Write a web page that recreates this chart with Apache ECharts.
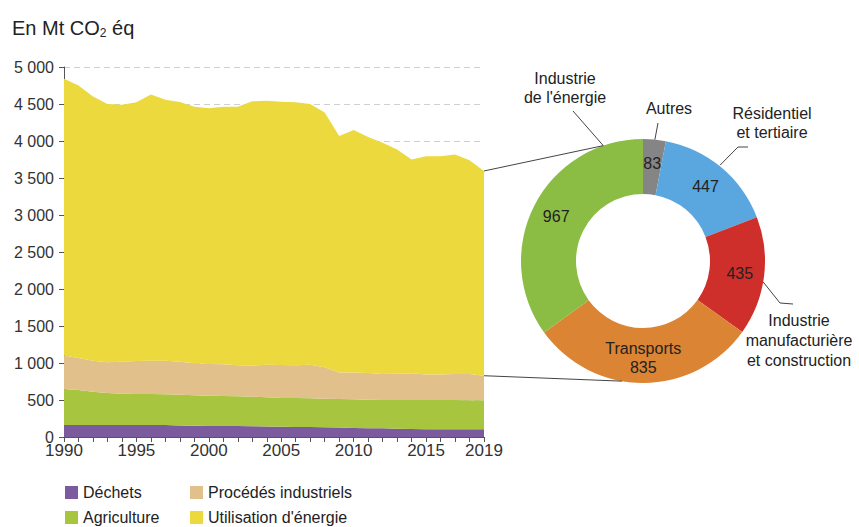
<!DOCTYPE html>
<html><head><meta charset="utf-8">
<script src="https://cdn.jsdelivr.net/npm/echarts@6/dist/echarts.min.js"></script>
<style>html,body{margin:0;padding:0;background:#fff}#c{width:859px;height:527px}</style>
</head><body><div id="c"></div>
<script>
// ---- data ----
const years = ['1990','1991','1992','1993','1994','1995','1996','1997','1998','1999',
  '2000','2001','2002','2003','2004','2005','2006','2007','2008','2009',
  '2010','2011','2012','2013','2014','2015','2016','2017','2018','2019'];
const dechets = [163,163,163,163,163,163,162,161,157,153,149,148,147,145,141,137,136,134,131,127,122,119,117,113,109,105,104,104,104,104];
const agriculture = [486,473,450,432,423,418,419,416,415,410,410,406,403,400,395,390,391,389,387,387,387,386,383,387,391,395,396,396,391,391];
const procedes = [451,432,419,414,432,446,451,455,446,432,427,428,418,419,441,446,441,454,423,359,364,359,351,355,360,346,346,351,356,333];
const energie = [3741,3682,3568,3491,3473,3496,3595,3527,3509,3469,3455,3482,3496,3572,3568,3559,3555,3523,3445,3195,3277,3191,3126,3031,2890,2949,2949,2967,2890,2767];
const xTickLabels = ['1990','1995','2000','2005','2010','2015','2019'];
const yTicks = [0,500,1000,1500,2000,2500,3000,3500,4000,4500,5000];
const pieLabels = ['Autres','Résidentiel\net tertiaire','Industrie\nmanufacturière\net construction','Transports',"Industrie\nde l'énergie"];
const pieValues = [83,447,435,835,967];

// ---- styles / layout ----
const FONT = '"Liberation Sans", Arial, Helvetica, sans-serif';
const TXT = '#222';
const areaColors = ['#7B5A9E','#A8C53F','#E1C08B','#EBD93E'];
const pieColors = ['#858585','#5AA7E0','#CF2F2A','#DB8433','#8BBD45'];
const PIE_C = [643, 261], PIE_R0 = 67, PIE_R = 122;

const pieNames = pieLabels.map(s => s.replace(/\n/g, ' '));

function areaSeries(name, data, color) {
  return {
    name, type: 'line', stack: 'total', data, symbol: 'none', showSymbol: false,
    lineStyle: { width: 0, opacity: 0 }, areaStyle: { color, opacity: 1 },
    itemStyle: { color }, emphasis: { disabled: true }, silent: true
  };
}
function legendCol(left, names) {
  return {
    left, top: 484, height: 80, orient: 'vertical', padding: 0,
    itemWidth: 13, itemHeight: 13, itemGap: 8, icon: 'rect', selectedMode: false,
    data: names,
    textStyle: { fontSize: 16, color: TXT, fontFamily: FONT, lineHeight: 17 }
  };
}

const chart = echarts.init(document.getElementById('c'), null, { renderer: 'svg' });
const option = {
  animation: false,
  backgroundColor: '#fff',
  textStyle: { fontFamily: FONT },
  title: {
    text: 'En Mt CO{sub|2} éq', left: 12, top: 17, padding: 0,
    textStyle: { fontSize: 20, fontWeight: 'normal', color: TXT, fontFamily: FONT, lineHeight: 22,
      rich: { sub: { fontSize: 12, fontFamily: FONT, color: TXT, verticalAlign: 'bottom', lineHeight: 12, padding: [10, 0, 0, 0] } } }
  },
  legend: [
    legendCol(65, ['Déchets', 'Agriculture']),
    legendCol(190, ['Procédés industriels', "Utilisation d'énergie"])
  ],
  grid: { left: 64, right: 375, top: 67, bottom: 90, outerBoundsMode: 'none', containLabel: false },
  xAxis: {
    type: 'category', boundaryGap: false, data: years,
    axisLine: { lineStyle: { color: '#555', width: 1 } },
    axisTick: { show: true, interval: 0, length: 5, lineStyle: { color: '#555' } },
    axisLabel: { interval: (i, v) => xTickLabels.includes(String(v)), fontSize: 17, color: '#333', margin: 6, fontFamily: FONT, lineHeight: 15, hideOverlap: false },
    splitLine: { show: false }
  },
  yAxis: {
    type: 'value', min: yTicks[0], max: yTicks[yTicks.length - 1], interval: yTicks[1] - yTicks[0],
    axisLine: { show: true, lineStyle: { color: '#555', width: 1 } },
    axisTick: { show: true, length: 5, lineStyle: { color: '#555' } },
    axisLabel: { fontSize: 16, color: '#333', margin: 10, fontFamily: FONT, lineHeight: 13,
      formatter: v => String(v).replace(/\B(?=(\d{3})+(?!\d))/g, ' ') },
    splitLine: { show: true, lineStyle: { color: '#cfcfcf', type: [6, 4], width: 1 } }
  },
  series: [
    areaSeries('Déchets', dechets, areaColors[0]),
    areaSeries('Agriculture', agriculture, areaColors[1]),
    areaSeries('Procédés industriels', procedes, areaColors[2]),
    areaSeries("Utilisation d'énergie", energie, areaColors[3]),
    {
      type: 'pie', center: PIE_C, radius: [PIE_R0, PIE_R], startAngle: 90, clockwise: true,
      silent: true, avoidLabelOverlap: false, emphasis: { disabled: true },
      data: pieNames.map((n, i) => ({ name: n, value: pieValues[i], itemStyle: { color: pieColors[i] } })),
      label: { show: true, position: 'inside', fontSize: 16, color: TXT, fontFamily: FONT, lineHeight: 19,
        formatter: p => p.name === 'Transports' ? p.name + '\n' + p.value : String(p.value) },
      labelLine: { show: false }
    }
  ]
};
chart.setOption(option);

// ---- annotations (connectors + outer donut labels), derived from scales / pie geometry ----
const last = years.length - 1;
const topVal = dechets[last] + agriculture[last] + procedes[last] + energie[last];
const botVal = dechets[last] + agriculture[last] + procedes[last];
const pTop = chart.convertToPixel({ xAxisIndex: 0, yAxisIndex: 0 }, [last, topVal]);
const pBot = chart.convertToPixel({ xAxisIndex: 0, yAxisIndex: 0 }, [last, botVal]);
function ring(deg, r) {
  const a = deg * Math.PI / 180, rr = r || PIE_R;
  return [PIE_C[0] + rr * Math.sin(a), PIE_C[1] - rr * Math.cos(a)];
}
const LINE = { stroke: '#444', lineWidth: 1, fill: null };
const g = [];
function poly(points) { g.push({ type: 'polyline', shape: { points }, style: LINE, silent: true, z: 10 }); }
function txt(t, x, y, lh) {
  g.push({ type: 'text', x, y, silent: true, z: 10,
    style: { text: t, fill: TXT, fontSize: 16, fontFamily: FONT, align: 'center', verticalAlign: 'middle', lineHeight: lh } });
}
// connectors from the 2019 energy band to the donut
poly([pTop, ring(-19)]);
poly([pBot, ring(190)]);
// outer labels
poly([ring(-19), [573, 111]]);               txt(pieLabels[4], 565, 88, 19);
poly([ring(5.6), [658, 123]]);               txt(pieLabels[0], 669, 108, 19);
poly([ring(38.8, 123), [738, 147], [748, 147]]); txt(pieLabels[1], 772, 123, 18.5);
poly([ring(99.9), [780, 303], [793, 304]]);  txt(pieLabels[2], 799, 340, 20);
chart.setOption({ graphic: { elements: g } });
</script>
</body></html>
